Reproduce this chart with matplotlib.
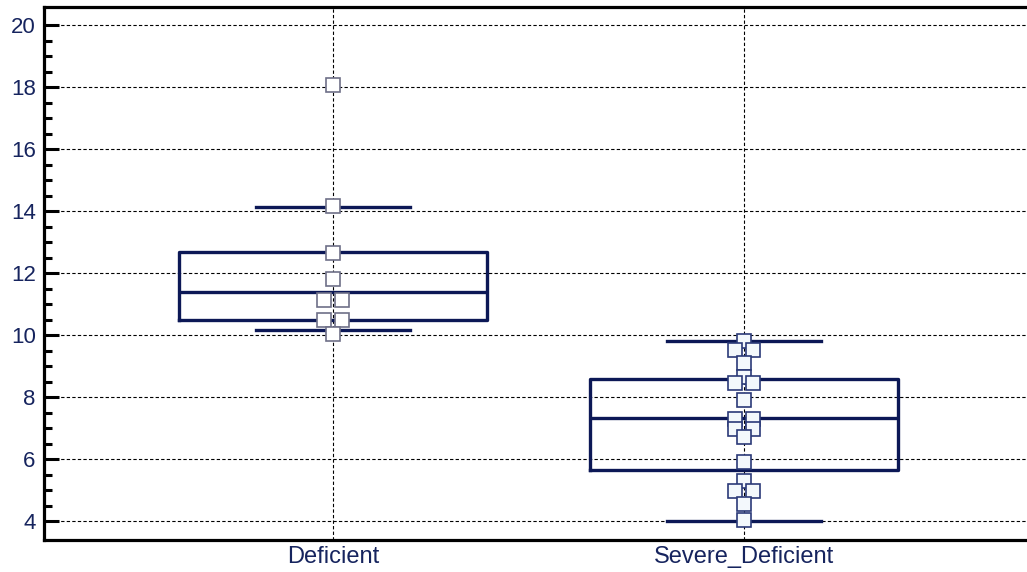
import numpy as np
import matplotlib
matplotlib.use("Agg")
import matplotlib.pyplot as plt

plt.rcParams['font.family'] = ['Liberation Sans', 'DejaVu Sans']

groups = ["Deficient", "Severe_Deficient"]

deficient = [18.06, 14.16, 12.64, 11.83, 11.15, 11.15, 10.48, 10.48, 10.03]
severe = [9.81, 9.52, 9.52, 9.11, 8.66, 8.47, 8.47, 7.90, 7.29, 7.29,
          6.99, 6.99, 6.72, 5.91, 5.29, 4.99, 4.99, 4.55, 4.03]

# box summary per group: lower whisker, Q1, median, Q3, upper whisker
q1 = [10.48, 5.65]
med = [11.38, 7.34]
q3 = [12.67, 8.60]
whislo = [10.16, 4.00]
whishi = [14.12, 9.80]

yticks = [4, 6, 8, 10, 12, 14, 16, 18, 20]

navy = '#0c1856'
label_col = '#16245e'

fig = plt.figure(figsize=(10.27, 5.72), dpi=100)
ax = fig.add_axes([44 / 1027, 32 / 572, (1033 - 44) / 1027, (540 - 6.5) / 572])

stats = []
for i, g in enumerate(groups):
    stats.append(dict(label=g, med=med[i], q1=q1[i], q3=q3[i],
                      whislo=whislo[i], whishi=whishi[i], fliers=[]))

ax.bxp(stats, positions=[0, 1], widths=0.75, capwidths=0.375,
       showfliers=False,
       boxprops=dict(color=navy, linewidth=2.4),
       medianprops=dict(color=navy, linewidth=2.4),
       whiskerprops=dict(linestyle='none'),
       capprops=dict(color=navy, linewidth=2.4),
       zorder=3)


def spread(vals, step=0.021):
    # side-by-side placement for tied values
    xs = []
    for v in vals:
        n = vals.count(v)
        if n == 1:
            xs.append(0.0)
        else:
            k = sum(1 for x, w in zip(xs, vals) if w == v)
            xs.append((k - (n - 1) / 2) * 2 * step)
    return np.array(xs)


ax.plot(0 + spread(deficient), deficient, 's', ms=9.5, mfc='white',
        mec='#6e7088', mew=1.2, ls='none', zorder=4)
ax.plot(1 + spread(severe), severe, 's', ms=9.5, mfc='#f3f8fc',
        mec='#2b3a78', mew=1.2, ls='none', zorder=4)

ax.set_xlim(-0.703, 1.703)
ax.set_ylim(3.4, 20.6)
ax.set_xticks([0, 1])
ax.set_xticklabels(groups)
ax.set_yticks(yticks)
ax.set_yticks(np.arange(4, 20.01, 0.5), minor=True)

ax.grid(True, which='major', color='black', linestyle=(0, (3, 2)), linewidth=0.8)
ax.set_axisbelow(True)

for s in ax.spines.values():
    s.set_linewidth(2.3)
    s.set_color('black')

ax.tick_params(axis='y', which='major', direction='in', length=11, width=2.2,
               labelsize=16, labelcolor=label_col, pad=6)
ax.tick_params(axis='y', which='minor', direction='in', length=6, width=2.2)
ax.tick_params(axis='x', which='major', length=0, labelsize=17,
               labelcolor=label_col, pad=4)

fig.savefig('out.png', dpi=100)
